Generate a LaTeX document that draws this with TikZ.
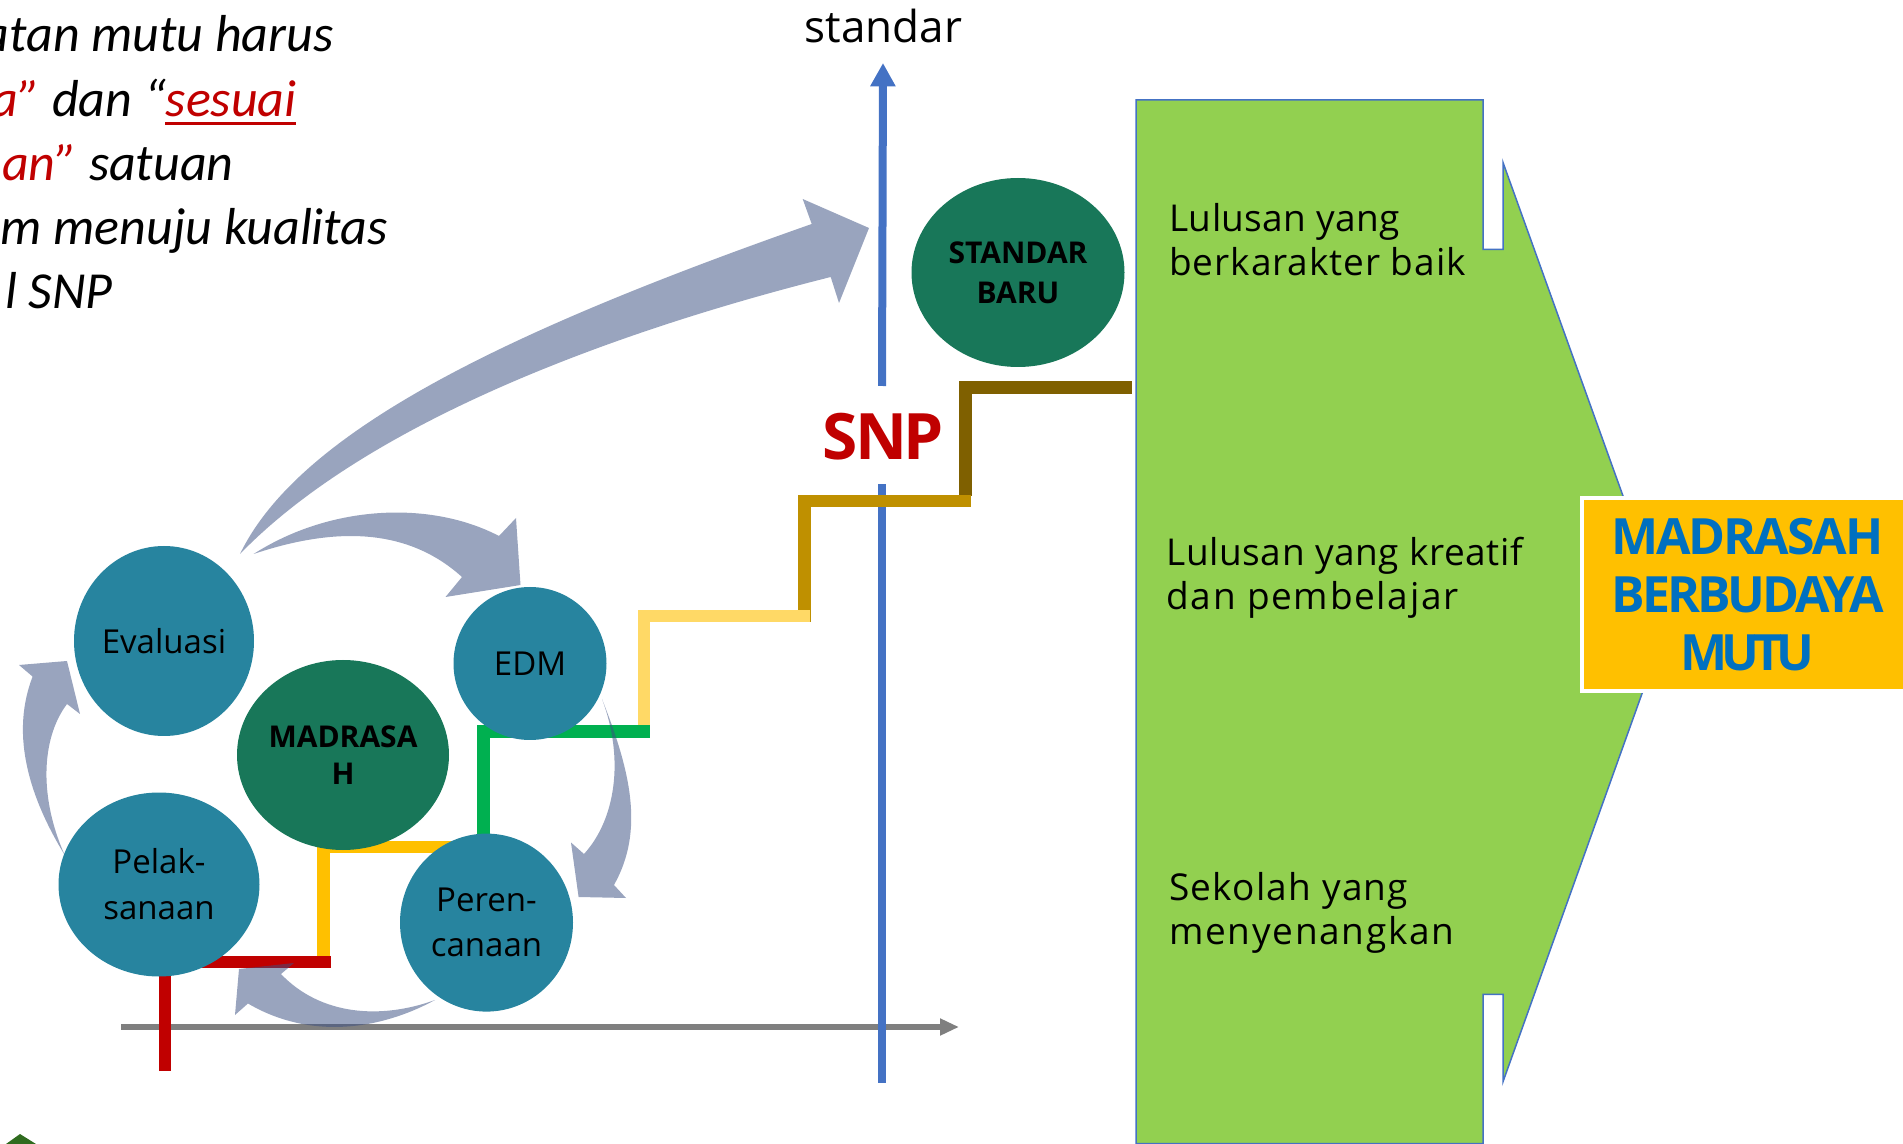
\documentclass[tikz,border=0pt]{standalone}
\usepackage{fontspec}
\usetikzlibrary{shapes.geometric,arrows.meta}
\setmainfont{Open Sans}
\newfontfamily\calfont{Carlito}
\newfontfamily\tightfont{Open Sans}
\newcommand{\pxf}[2]{\fontsize{#1}{#2}\selectfont}
\newcommand{\lsp}[2]{{\addfontfeature{LetterSpace=#1}#2}}
\definecolor{teal}{HTML}{27849F}
\definecolor{dkgreen}{HTML}{187759}
\definecolor{lime}{HTML}{92D050}
\definecolor{bluex}{HTML}{4472C4}
\definecolor{redx}{HTML}{C00000}
\definecolor{amber}{HTML}{FFC000}
\definecolor{grn}{HTML}{00B050}
\definecolor{lyel}{HTML}{FFD966}
\definecolor{gold}{HTML}{BF9000}
\definecolor{brownx}{HTML}{7F6000}
\definecolor{grayx}{HTML}{7F7F7F}
\definecolor{blockc}{HTML}{3C5082}
\definecolor{bluet}{HTML}{0070C0}
\definecolor{leaf}{HTML}{2F6B1F}
\tikzset{
  stair/.style={line width=6.25pt,miter limit=10,line join=miter},
  blob/.style={ellipse,fill=teal,inner sep=0pt,align=center,text=black,font=\pxf{16.5}{22.5}},
  core/.style={ellipse,fill=dkgreen,inner sep=0pt,align=center,text=black,font=\pxf{15}{18.8}\bfseries},
  block/.style={fill=blockc,fill opacity=.52,draw=none},
  head/.style={anchor=base east,inner sep=0pt,font=\calfont\itshape\pxf{26}{32},text=black},
  body/.style={anchor=north west,inner sep=0pt,align=left,font=\pxf{18.5}{22},text=black},
}
\begin{document}
\begin{tikzpicture}[x=.5pt,y=-.5pt]
\useasboundingbox (0,0) rectangle (1903,1144);
% heading
\node[head] (h1) at (334,52) {atan mutu harus};
\node[head] (h2) at (297,117) {\textcolor{redx}{a”} dan “\textcolor{redx}{sesuai}};
\node[head] (h3) at (234,181) {\textcolor{redx}{an”} satuan};
\node[head] (h4) at (388,245) {m menuju kualitas};
\node[head] (h5) at (113,309) {l SNP};
\fill[redx] (165,122.5) rectangle (296,125);
% green block arrow
\draw[fill=lime,draw=bluex,line width=.75pt] (1136,100) -- (1483,100) -- (1483,249.4) -- (1503,249.4) -- (1503,162.5) -- (1668,621) -- (1503,1081.7) -- (1503,994.3) -- (1483,994.3) -- (1483,1143.5) -- (1136,1143.5) -- cycle;
\node[body] (t1) at (1169,203) {\lsp{1}{Lulusan yang}\\\lsp{2.5}{berkarakter baik}};
\node[body] (t2) at (1166,537) {\lsp{1.6}{Lulusan yang kreatif}\\\lsp{4.6}{dan pembelajar}};
\node[body] (t3) at (1169,872) {\lsp{3.3}{Sekolah yang}\\\lsp{4.6}{menyenangkan}};
\node[rectangle,fill=amber,draw=white,line width=2pt,minimum width=165.5pt,minimum height=96.75pt,inner sep=0pt,align=center,text=bluet,font=\tightfont\pxf{25}{29}\bfseries] (goal) at (1747.5,594.5) {\lsp{-4}{MADRASAH}\\\lsp{-6}{BERBUDAYA}\\\lsp{-12}{MUTU}};
% axes
\coordinate (xa) at (121,1027);
\coordinate (xb) at (959,1027);
\draw[grayx,line width=3pt,-{Triangle[length=9.5pt,width=8pt]}] (xa) -- (xb);
\coordinate (ya) at (882,386);
\coordinate (yb) at (883,63);
\coordinate (yc) at (882,1082.5);
\coordinate (yd) at (882,483.6);
\draw[bluex,line width=4pt,-{Triangle[length=11.7pt,width=12pt]}] (ya) -- (yb);
\draw[bluex,line width=4pt] (yc) -- (yd);
\node[anchor=base,inner sep=0pt,font=\pxf{22}{26},text=black] (ylab) at (883.5,43) {standar};
\node[anchor=base,inner sep=0pt,font=\tightfont\pxf{32}{36}\bfseries,text=redx] (snp) at (883.5,460) {\lsp{-5}{SNP}};
% stairs
\coordinate (b0) at (965.3,496); \coordinate (b1) at (965.3,387.7); \coordinate (b2) at (1131.7,387.7);
\coordinate (g0) at (804.5,622); \coordinate (g1) at (804.5,501); \coordinate (g2) at (971,501);
\coordinate (l0) at (644.2,737); \coordinate (l1) at (644.2,616); \coordinate (l2) at (810,616);
\coordinate (n0) at (483.5,900); \coordinate (n1) at (483.5,731.6); \coordinate (n2) at (650,731.6);
\coordinate (y0) at (323.5,962); \coordinate (y1) at (323.5,847); \coordinate (y2) at (490,847);
\coordinate (r0) at (165,1071); \coordinate (r1) at (165,962); \coordinate (r2) at (331,962);
\draw[stair,brownx] (b0) -- (b1) -- (b2);
\draw[stair,gold] (g0) -- (g1) -- (g2);
\draw[stair,lyel] (l0) -- (l1) -- (l2);
\draw[stair,grn] (n0) -- (n1) -- (n2);
\draw[stair,amber] (y0) -- (y1) -- (y2);
\draw[stair,redx] (r0) -- (r1) -- (r2);
% circles
\node[blob,minimum width=90pt,minimum height=95pt] (eval) at (164,641) {Evaluasi};
\node[blob,minimum width=76.5pt,minimum height=76.5pt] (edm) at (530,663.5) {EDM};
\node[blob,minimum width=100.5pt,minimum height=92pt] (pelak) at (159,884.5) {\raisebox{.5pt}{Pelak-}\\sanaan};
\node[blob,minimum width=86.5pt,minimum height=89pt] (peren) at (486.5,922.6) {Peren-\\canaan};
\node[core,minimum width=106pt,minimum height=95pt] (mad) at (343,755) {MADRASA\\H};
\node[core,minimum width=106.5pt,minimum height=94.5pt,font=\pxf{15}{20}\bfseries] (std) at (1018,272.5) {STANDAR\\BARU};
% block arrows
\path[block] (240,554) .. controls (300,430) and (510,330) .. (811.7,224) -- (802.7,199) -- (869,228) -- (839,303) -- (830.7,277) .. controls (620,330) and (370,420) .. cycle;
\path[block] (253.6,554) .. controls (330,505) and (430,500) .. (499,536) -- (516,518) -- (520.5,585) -- (445.5,597) -- (462,577) .. controls (410,530) and (340,525) .. cycle;
\path[block] (602,699) .. controls (630,770) and (645,830) .. (614,885) -- (626,898) -- (578.6,897) -- (571,842.5) -- (584,854) .. controls (615,820) and (625,760) .. cycle;
\path[block] (435,1000) .. controls (380,1030) and (310,1040) .. (248,1003.5) -- (235,1015) -- (239,969) -- (294,963) -- (281,974) .. controls (320,1015) and (380,1020) .. cycle;
\path[block] (64.7,855) .. controls (25,790) and (12,730) .. (32.6,676.6) -- (19,665) -- (67,661) -- (80,714) -- (67,704) .. controls (40,740) and (40,800) .. cycle;
\fill[leaf] (6,1144) -- (20,1134) -- (36,1144) -- cycle;
\end{tikzpicture}
\end{document}
